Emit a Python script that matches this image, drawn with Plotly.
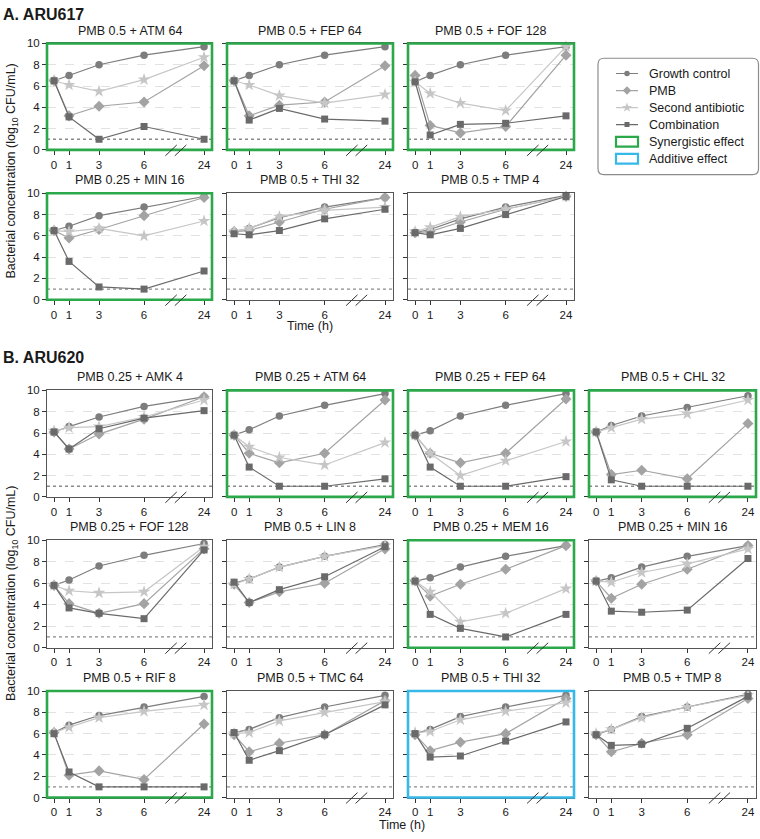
import plotly.graph_objects as go

W, H = 760, 839

# ---------------- data ----------------
times_h = [0, 1, 3, 6, 24]
time_tick_labels = ["0", "1", "3", "6", "24"]
series_names = ["Growth control", "PMB", "Second antibiotic", "Combination"]
effect_names = ["Synergistic effect", "Additive effect"]

titles_A = ["PMB 0.5 + ATM 64", "PMB 0.5 + FEP 64", "PMB 0.5 + FOF 128",
            "PMB 0.25 + MIN 16", "PMB 0.5 + THI 32", "PMB 0.5 + TMP 4"]
effect_A = ["synergistic", "synergistic", "synergistic", "synergistic", "none", "none"]
growth_A = [
    [6.5, 7.0, 8.0, 8.9, 9.7],
    [6.5, 7.0, 8.0, 8.9, 9.7],
    [6.4, 7.0, 8.0, 8.9, 9.7],
    [6.5, 6.9, 7.9, 8.7, 9.7],
    [6.4, 6.7, 7.7, 8.7, 9.6],
    [6.3, 6.6, 7.6, 8.7, 9.8],
]
pmb_A = [
    [6.5, 3.2, 4.1, 4.5, 7.9],
    [6.5, 3.2, 4.2, 4.5, 7.9],
    [7.0, 2.3, 1.6, 2.2, 8.9],
    [6.5, 5.8, 6.6, 7.9, 9.6],
    [6.4, 6.5, 7.3, 8.5, 9.6],
    [6.3, 6.4, 7.3, 8.5, 9.7],
]
second_A = [
    [6.5, 6.1, 5.5, 6.6, 8.7],
    [6.5, 6.1, 5.1, 4.4, 5.2],
    [6.4, 5.3, 4.4, 3.7, 9.7],
    [6.5, 6.4, 6.7, 6.0, 7.4],
    [6.4, 6.7, 7.8, 8.4, 8.7],
    [6.4, 6.8, 7.8, 8.5, 9.7],
]
combo_A = [
    [6.5, 3.1, 1.0, 2.2, 1.0],
    [6.5, 2.8, 3.9, 2.9, 2.7],
    [6.4, 1.4, 2.4, 2.5, 3.2],
    [6.5, 3.6, 1.2, 1.0, 2.7],
    [6.2, 6.1, 6.5, 7.6, 8.5],
    [6.3, 6.1, 6.7, 8.0, 9.7],
]

titles_B = ["PMB 0.25 + AMK 4", "PMB 0.25 + ATM 64", "PMB 0.25 + FEP 64", "PMB 0.5 + CHL 32",
            "PMB 0.25 + FOF 128", "PMB 0.5 + LIN 8", "PMB 0.25 + MEM 16", "PMB 0.25 + MIN 16",
            "PMB 0.5 + RIF 8", "PMB 0.5 + TMC 64", "PMB 0.5 + THI 32", "PMB 0.5 + TMP 8"]
effect_B = ["none", "synergistic", "synergistic", "synergistic",
            "none", "none", "synergistic", "none",
            "synergistic", "none", "additive", "none"]
growth_B = [
    [6.1, 6.6, 7.5, 8.5, 9.4],
    [5.8, 6.3, 7.6, 8.6, 9.7],
    [5.8, 6.2, 7.6, 8.6, 9.7],
    [6.1, 6.7, 7.6, 8.4, 9.5],
    [5.8, 6.3, 7.6, 8.6, 9.7],
    [6.0, 6.4, 7.5, 8.5, 9.6],
    [6.2, 6.5, 7.5, 8.5, 9.5],
    [6.2, 6.5, 7.5, 8.5, 9.5],
    [6.1, 6.8, 7.7, 8.5, 9.5],
    [6.1, 6.4, 7.5, 8.5, 9.6],
    [6.0, 6.4, 7.6, 8.5, 9.6],
    [5.9, 6.4, 7.6, 8.5, 9.7],
]
pmb_B = [
    [6.1, 4.5, 5.9, 7.3, 9.4],
    [5.8, 4.1, 3.2, 4.1, 9.1],
    [5.8, 4.1, 3.2, 4.1, 9.2],
    [6.1, 2.1, 2.5, 1.7, 6.9],
    [5.8, 4.1, 3.2, 4.1, 9.2],
    [5.9, 4.2, 5.2, 6.0, 9.2],
    [6.2, 4.8, 5.9, 7.3, 9.5],
    [6.2, 4.6, 5.9, 7.3, 9.5],
    [6.1, 2.1, 2.5, 1.7, 6.9],
    [5.9, 4.3, 5.1, 5.9, 9.1],
    [5.9, 4.4, 5.2, 6.0, 9.3],
    [5.9, 4.3, 5.1, 5.9, 9.3],
]
second_B = [
    [6.2, 6.5, 6.6, 7.5, 9.1],
    [5.8, 4.7, 3.7, 3.0, 5.1],
    [5.8, 4.1, 2.0, 3.4, 5.2],
    [6.1, 6.5, 7.3, 7.8, 9.1],
    [5.8, 5.3, 5.1, 5.2, 9.4],
    [5.9, 6.4, 7.5, 8.5, 9.5],
    [6.2, 5.2, 2.4, 3.2, 5.5],
    [6.2, 6.1, 7.0, 7.8, 9.2],
    [6.1, 6.6, 7.5, 8.1, 8.7],
    [6.0, 6.1, 7.2, 8.0, 9.0],
    [6.1, 6.2, 7.3, 8.1, 8.9],
    [6.0, 6.4, 7.5, 8.5, 9.6],
]
combo_B = [
    [6.1, 4.5, 6.4, 7.4, 8.1],
    [5.8, 2.8, 1.0, 1.0, 1.7],
    [5.8, 2.8, 1.0, 1.0, 1.9],
    [6.1, 1.6, 1.0, 1.0, 1.0],
    [5.8, 3.7, 3.2, 2.7, 9.1],
    [6.1, 4.2, 5.4, 6.6, 9.4],
    [6.2, 3.1, 1.8, 1.0, 3.1],
    [6.2, 3.4, 3.3, 3.5, 8.3],
    [6.0, 2.4, 1.0, 1.0, 1.0],
    [6.1, 3.5, 4.4, 5.9, 8.7],
    [6.0, 3.8, 3.9, 5.3, 7.1],
    [5.9, 4.9, 5.0, 6.5, 9.5],
]
detection_limit = 1.0

# ---------------- styles / geometry ----------------
FONT = "Liberation Sans, Arial, Helvetica, sans-serif"
TXT = "#1a1a1a"
series_style = [
    dict(color="#7d7d7d", symbol="circle", size=7.5),
    dict(color="#a3a3a3", symbol="diamond", size=8.5),
    dict(color="#c6c6c6", symbol="star", size=9.5),
    dict(color="#6a6a6a", symbol="square", size=7),
]
effect_color = {"synergistic": "#2aa84a", "additive": "#36b9e8"}

cols_px = [(47, 212), (227, 393), (408, 574), (589, 756)]
rows_A = [(38, 146), (190, 298)]
rows_B = [(390, 498), (542, 651), (695, 803)]
XMIN, XMAX = -0.47, 10.53


def broken_time(t):
    # broken axis: 0-6 h linear, gap compressed so that 24 h sits at 10
    return t if t <= 6 else 6 + (t - 6) * 4.0 / 18.0


x_pos = [broken_time(t) for t in times_h]

fig = go.Figure()
layout_axes = {}
shapes = []
annotations = []


def px_x(px):
    return px / W


def px_y(py):
    return 1 - py / H


def add_panel(n, col, row_px, title, effect, data, show_ylabels):
    l, r = cols_px[col]
    t, b = row_px
    xa = "x" if n == 1 else f"x{n}"
    ya = "y" if n == 1 else f"y{n}"
    sfx = "" if n == 1 else str(n)
    layout_axes["xaxis" + sfx] = dict(
        domain=[px_x(l), px_x(r)], anchor=ya, range=[XMIN, XMAX],
        tickmode="array", tickvals=x_pos, ticktext=time_tick_labels,
        ticks="outside", ticklen=4, tickcolor="#333", tickwidth=1,
        showline=True, linecolor="#555", linewidth=1, mirror=True,
        showgrid=False, zeroline=False, fixedrange=True,
        tickfont=dict(size=11.5, color=TXT, family=FONT),
    )
    layout_axes["yaxis" + sfx] = dict(
        domain=[px_y(b), px_y(t)], anchor=xa, range=[0, 10],
        tickmode="array", tickvals=[0, 2, 4, 6, 8, 10],
        showticklabels=show_ylabels,
        ticks="outside", ticklen=4, tickcolor="#333", tickwidth=1,
        showline=True, linecolor="#555", linewidth=1, mirror=True,
        showgrid=True, gridcolor="#e2e2e2", griddash="dash", gridwidth=1,
        zeroline=False, fixedrange=True,
        tickfont=dict(size=11.5, color=TXT, family=FONT),
    )
    # detection limit dotted line
    shapes.append(dict(type="line", xref=f"{xa} domain", yref=ya, x0=0, x1=1,
                       y0=detection_limit, y1=detection_limit, layer="below",
                       line=dict(color="#8a8a8a", width=1.3, dash="dot")))
    for s, vals in enumerate(data):
        st = series_style[s]
        fig.add_trace(go.Scatter(
            x=x_pos, y=vals, xaxis=xa, yaxis=ya, mode="lines+markers",
            name=series_names[s], showlegend=False, cliponaxis=False,
            line=dict(color=st["color"], width=1.2),
            marker=dict(color=st["color"], symbol=st["symbol"], size=st["size"],
                        line=dict(width=0)),
        ))
    # effect frame
    if effect in effect_color:
        shapes.append(dict(type="rect", xref="paper", yref="paper",
                           x0=px_x(l), x1=px_x(r), y0=px_y(b), y1=px_y(t),
                           layer="above",
                           line=dict(color=effect_color[effect], width=2.6)))
    # axis break marks
    span = r - l
    for xb0, xb1 in [(7.42, 8.18), (8.05, 8.82)]:
        X0 = l + (xb0 - XMIN) / (XMAX - XMIN) * span
        X1 = l + (xb1 - XMIN) / (XMAX - XMIN) * span
        shapes.append(dict(type="line", xref="paper", yref="paper",
                           x0=px_x(X0), x1=px_x(X1), y0=px_y(b + 6), y1=px_y(b - 5),
                           layer="above", line=dict(color="#333", width=1)))
    # title
    annotations.append(dict(text=title, xref="paper", yref="paper",
                            x=px_x((l + r) / 2), y=px_y(t - 4), xanchor="center",
                            yanchor="bottom", showarrow=False,
                            font=dict(size=12.5, color=TXT, family=FONT)))


n = 0
for i in range(6):
    n += 1
    row, col = divmod(i, 3)
    add_panel(n, col, rows_A[row], titles_A[i], effect_A[i],
              [growth_A[i], pmb_A[i], second_A[i], combo_A[i]], col == 0)
for i in range(12):
    n += 1
    row, col = divmod(i, 4)
    add_panel(n, col, rows_B[row], titles_B[i], effect_B[i],
              [growth_B[i], pmb_B[i], second_B[i], combo_B[i]], col == 0)

# panel labels
annotations.append(dict(text="<b>A. ARU617</b>", xref="paper", yref="paper",
                        x=px_x(1), y=px_y(9), xanchor="left", yanchor="middle",
                        showarrow=False, font=dict(size=16, color=TXT, family=FONT)))
annotations.append(dict(text="<b>B. ARU620</b>", xref="paper", yref="paper",
                        x=px_x(1), y=px_y(357), xanchor="left", yanchor="middle",
                        showarrow=False, font=dict(size=16, color=TXT, family=FONT)))
ytitle = "Bacterial concentration (log<sub>10</sub> CFU/mL)"
for yc in [(38 + 298) / 2, (390 + 803) / 2]:
    annotations.append(dict(text=ytitle, xref="paper", yref="paper",
                            x=px_x(12), y=px_y(yc), xanchor="center", yanchor="middle",
                            textangle=-90, showarrow=False,
                            font=dict(size=12.5, color=TXT, family=FONT)))
for xc, yc in [((227 + 393) / 2, 325), ((47 + 756) / 2, 831)]:
    annotations.append(dict(text="Time (h)", xref="paper", yref="paper",
                            x=px_x(xc), y=px_y(yc), xanchor="center", yanchor="middle",
                            showarrow=False,
                            font=dict(size=12.5, color=TXT, family=FONT)))

# ---------------- legend (drawn on a hidden pixel-scaled axis) ----------------
LX0, LX1, LY0, LY1 = 588, 760, 45, 180
layout_axes["xaxis19"] = dict(domain=[px_x(LX0), px_x(LX1)], range=[LX0, LX1],
                              anchor="y19", visible=False, fixedrange=True)
layout_axes["yaxis19"] = dict(domain=[px_y(LY1), px_y(LY0)], range=[LY1, LY0],
                              anchor="x19", visible=False, fixedrange=True)
bx0, bx1, by0, by1, rad = 598, 758.5, 53, 171, 6
path = (f"M {bx0+rad},{by0} L {bx1-rad},{by0} Q {bx1},{by0} {bx1},{by0+rad} "
        f"L {bx1},{by1-rad} Q {bx1},{by1} {bx1-rad},{by1} "
        f"L {bx0+rad},{by1} Q {bx0},{by1} {bx0},{by1-rad} "
        f"L {bx0},{by0+rad} Q {bx0},{by0} {bx0+rad},{by0} Z")
shapes.append(dict(type="path", xref="x19", yref="y19", path=path,
                   line=dict(color="#8c8c8c", width=1.2), fillcolor="white", layer="below"))
item_y = [68.5, 85.8, 103, 120.3, 137.7, 155]
for k, name in enumerate(series_names):
    st = series_style[k]
    yy = item_y[k]
    fig.add_trace(go.Scatter(x=[616, 638], y=[yy, yy], xaxis="x19", yaxis="y19",
                             mode="lines", showlegend=False, hoverinfo="skip",
                             line=dict(color=st["color"], width=1.2)))
    fig.add_trace(go.Scatter(x=[627], y=[yy], xaxis="x19", yaxis="y19",
                             mode="markers", showlegend=False, hoverinfo="skip",
                             marker=dict(color=st["color"], symbol=st["symbol"],
                                         size=st["size"] - 2, line=dict(width=0))))
for k, name in enumerate(series_names + effect_names):
    annotations.append(dict(text=name, xref="x19", yref="y19", x=647, y=item_y[k],
                            xanchor="left", yanchor="middle", showarrow=False,
                            font=dict(size=12.5, color=TXT, family=FONT)))
for k, eff in enumerate(["synergistic", "additive"]):
    yy = item_y[4 + k]
    shapes.append(dict(type="rect", xref="x19", yref="y19", x0=616, x1=638,
                       y0=yy - 5, y1=yy + 5, layer="above",
                       line=dict(color=effect_color[eff], width=2.2)))

fig.update_layout(
    width=W, height=H, margin=dict(l=0, r=0, t=0, b=0),
    paper_bgcolor="white", plot_bgcolor="white",
    showlegend=False, shapes=shapes, annotations=annotations,
    font=dict(family=FONT, color=TXT),
    **layout_axes,
)
fig.write_html("out.html", config={"displayModeBar": False},
               post_script="document.body.style.margin='0';document.body.style.overflow='hidden';")
